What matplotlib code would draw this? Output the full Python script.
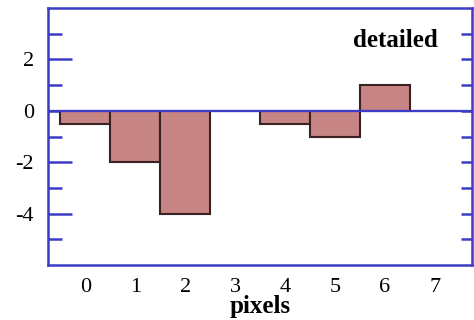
import matplotlib
matplotlib.use('Agg')
import matplotlib.pyplot as plt

# datos
pix = [0, 1, 2, 3, 4, 5, 6, 7]
vals = [-0.5, -2, -4, 0, -0.5, -1, 1, 0]
yticks = [-4, -2, 0, 2]
yminor = [-5, -3, -1, 1, 3]

azul = '#3c3cc8'
plt.rcParams['font.family'] = ['Liberation Serif', 'DejaVu Serif']
plt.rcParams['axes.unicode_minus'] = False

fig = plt.figure(figsize=(4.74, 3.2), dpi=100)
ax = fig.add_axes([48/474, 1 - 265/320, 424/474, 257/320])

ax.bar(pix, vals, width=1.0, color='#c88585', edgecolor='#3a2222', linewidth=1.5, zorder=2)
ax.axhline(0, color=azul, lw=1.6, zorder=3)

ax.set_xlim(-0.75, 7.75)
ax.set_ylim(-6, 4)
ax.set_xticks(pix)
ax.set_yticks(yticks)
ax.set_yticks(yminor, minor=True)

for s in ax.spines.values():
    s.set_color(azul)
    s.set_linewidth(1.8)

ax.tick_params(axis='x', length=0, labelsize=16, pad=9)
ax.tick_params(axis='y', which='major', direction='in', length=17, width=1.8,
               color=azul, labelsize=16, pad=10)
ax.tick_params(axis='y', which='minor', direction='in', length=10, width=1.8, color=azul)

# marcas del lado derecho
ax2 = ax.secondary_yaxis('right')
ax2.set_yticks(yticks + yminor)
ax2.tick_params(axis='y', direction='in', length=8, width=1.8, color=azul, labelright=False)
ax2.spines['right'].set_visible(False)

ax.set_xlabel('pixels', fontsize=18, fontweight='bold', labelpad=-1)
ax.text(0.82, 0.875, 'detailed', transform=ax.transAxes, ha='center', va='center',
        fontsize=18, fontweight='bold')

fig.savefig('out.png', dpi=100)
